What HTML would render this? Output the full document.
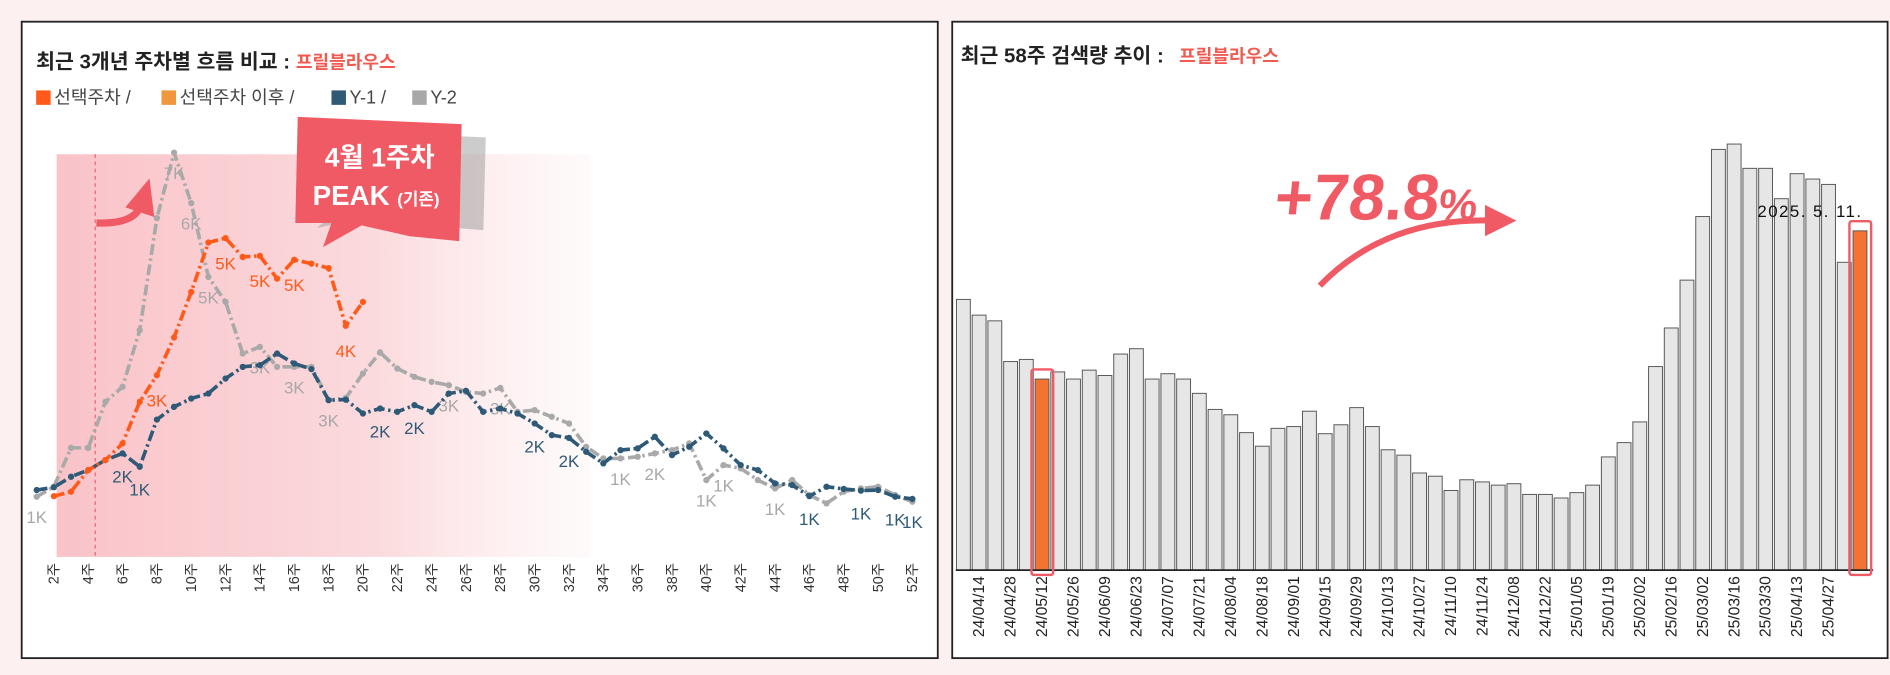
<!DOCTYPE html>
<html><head><meta charset="utf-8"><style>
html,body{margin:0;padding:0;background:#fdf0f0;}
svg{display:block;font-family:"Liberation Sans","Noto Sans CJK KR",sans-serif;}
</style></head><body>
<svg id="s" width="1890" height="675" viewBox="0 0 1568 560" preserveAspectRatio="none">
<defs>
<linearGradient id="pg" x1="0" x2="1" y1="0" y2="0">
<stop offset="0" stop-color="#f9c3c8"/><stop offset="0.6" stop-color="#fbdadd"/><stop offset="1" stop-color="#fde9ea" stop-opacity="0.2"/>
</linearGradient>
</defs>
<rect x="0" y="0" width="1568" height="560" fill="#fdf0f0"/>
<rect x="18" y="18" width="760" height="528" fill="#fff" stroke="#222" stroke-width="1.5"/>
<text x="30" y="57" font-size="17" font-weight="bold" fill="#222">최근 3개년 주차별 흐름 비교 : <tspan fill="#f05a50" font-size="15">프릴블라우스</tspan></text>
<g font-size="15" fill="#444">
<rect x="30" y="75" width="12" height="12" fill="#ff5a1a"/>
<text x="45" y="86">선택주차 /</text>
<rect x="134" y="75" width="12" height="12" fill="#f0963c"/>
<text x="149" y="86">선택주차 이후 /</text>
<rect x="275" y="75" width="12" height="12" fill="#2e5a78"/>
<text x="290" y="86">Y-1 /</text>
<rect x="342" y="75" width="12" height="12" fill="#a8a8a8"/>
<text x="357" y="86">Y-2</text>
</g>
<rect x="47" y="128" width="443" height="334" fill="url(#pg)"/>
<line x1="79" y1="128" x2="79" y2="462" stroke="#f06070" stroke-width="1" stroke-dasharray="3 3"/>
<g id="left"></g>
<path d="M80 185 Q110 186 116 172" fill="none" stroke="#f05a64" stroke-width="6"/>
<polygon points="104,172 124,148 128,180" fill="#f05a64"/>
<g>
<polygon points="258,104 395,110 393,187 370,185 340,180 300,176 255,185 275,168 247,168" fill="#9a9a9a" opacity="0.5" transform="translate(8,4)"/>
<polygon points="247,97 383,103 381,200 340,196 300,187 268,205 275,185 245,185" fill="#f05a64"/>
<text x="315" y="138" font-size="22" font-weight="bold" fill="#fff" text-anchor="middle">4월 1주차</text>
<text x="312" y="170" font-size="23" font-weight="bold" fill="#fff" text-anchor="middle">PEAK <tspan font-size="14">(기존)</tspan></text>
</g>
<rect x="790" y="18" width="776" height="528" fill="#fff" stroke="#222" stroke-width="1.5"/>
<text x="797" y="52" font-size="17" font-weight="bold" fill="#222">최근 58주 검색량 추이 :  <tspan fill="#f05a50" font-size="15" dx="8">프릴블라우스</tspan></text>
<g id="right"></g>
<text x="1057" y="182" font-size="54" font-weight="bold" fill="#f05a64" transform="skewX(-6) translate(18,0)">+78.8<tspan font-size="36">%</tspan></text>
<path d="M1095 237 Q1150 180 1240 183" fill="none" stroke="#f05a64" stroke-width="5"/>
<polygon points="1232,170 1258,183 1232,196" fill="#f05a64"/>
</svg>
<script>
const weeks=[];for(let i=1;i<=52;i++)weeks.push(i);
const weekTickLabels=["2주","4주","6주","8주","10주","12주","14주","16주","18주","20주","22주","24주","26주","28주","30주","32주","34주","36주","38주","40주","42주","44주","46주","48주","50주","52주"];
const selectedValues=[null,0.79,0.87,1.26,1.44,1.74,2.49,2.97,3.65,4.47,5.36,5.44,5.10,5.12,4.71,5.05,4.98,4.90,3.86,4.29];
const y1Values=[0.9,0.95,1.14,1.26,1.44,1.56,1.32,2.17,2.40,2.55,2.64,2.91,3.12,3.15,3.36,3.18,3.08,2.52,2.53,2.28,2.37,2.31,2.43,2.31,2.64,2.69,2.31,2.37,2.28,2.10,1.89,1.84,1.59,1.38,1.62,1.65,1.86,1.53,1.68,1.92,1.65,1.35,1.26,1.02,0.99,0.79,0.96,0.92,0.89,0.90,0.78,0.74];
const y2Values=[0.78,0.96,1.66,1.66,2.49,2.76,3.78,5.80,6.98,6.07,4.74,4.29,3.36,3.48,3.12,3.12,3.12,2.52,2.56,3.00,3.38,3.09,2.94,2.85,2.79,2.67,2.64,2.74,2.31,2.34,2.22,2.10,1.68,1.47,1.47,1.50,1.56,1.62,1.74,1.08,1.35,1.29,1.08,0.93,1.08,0.81,0.66,0.87,0.93,0.96,0.81,0.69];
const selectedLabelWeeks=[8,12,14,16,19];
const y1LabelWeeks=[6,7,21,23,30,32,46,49,51,52];
const y2LabelWeeks=[1,9,10,11,14,16,18,25,28,35,37,40,41,44];
const barDates=["24/04/07","24/04/14","24/04/21","24/04/28","24/05/05","24/05/12","24/05/19","24/05/26","24/06/02","24/06/09","24/06/16","24/06/23","24/06/30","24/07/07","24/07/14","24/07/21","24/07/28","24/08/04","24/08/11","24/08/18","24/08/25","24/09/01","24/09/08","24/09/15","24/09/22","24/09/29","24/10/06","24/10/13","24/10/20","24/10/27","24/11/03","24/11/10","24/11/17","24/11/24","24/12/01","24/12/08","24/12/15","24/12/22","24/12/29","25/01/05","25/01/12","25/01/19","25/01/26","25/02/02","25/02/09","25/02/16","25/02/23","25/03/02","25/03/09","25/03/16","25/03/23","25/03/30","25/04/06","25/04/13","25/04/20","25/04/27","25/05/04","25/05/11"];
const barValues=[758,714,698,584,590,535,555,535,560,545,605,620,535,550,535,495,450,435,385,347,397,402,445,382,407,455,402,337,322,272,263,223,253,247,238,242,212,212,202,217,238,317,357,415,570,678,812,990,1178,1193,1125,1125,1040,1110,1095,1080,862,950];
const highlightBars=[5,57];

const NS="http://www.w3.org/2000/svg";
function mk(tag,attrs,parent){const e=document.createElementNS(NS,tag);for(const k in attrs)e.setAttribute(k,attrs[k]);parent.appendChild(e);return e;}
const X=w=>30.45+14.245*(w-1);
const Y=v=>448-46.04*v;
const L=document.getElementById('left');
weekTickLabels.forEach((t,i)=>{const w=(i+1)*2;
  const e=mk('text',{x:X(w)+4,y:467,'font-size':12,fill:'#333','text-anchor':'end',transform:`rotate(-90 ${X(w)+4} 467)`},L);
  
  
  e.textContent=t;});
function drawSeries(vals,color,name,labelWeeks,lblColor,dy){
  const g=mk('g',{},L);
  
  
  let d='';vals.forEach((v,i)=>{if(v==null)return;d+=(d?'L':'M')+X(i+1)+' '+Y(v)+' ';});
  mk('path',{d:d,fill:'none',stroke:color,'stroke-width':3,'stroke-dasharray':'9 3 2 3','stroke-linejoin':'round'},g);
  vals.forEach((v,i)=>{if(v==null)return;const c=mk('circle',{cx:X(i+1),cy:Y(v),r:2.6,fill:color},g);
    
    });
  labelWeeks.forEach(w=>{const v=vals[w-1];if(v==null)return;
    const t=mk('text',{x:X(w),y:Y(v)+dy,'font-size':14,fill:lblColor,'text-anchor':'middle'},g);
    
    
    t.textContent=Math.max(1,Math.round(v))+'K';});
}
drawSeries(y2Values,'#a9a9a9','series-y2',y2LabelWeeks,'#a8a8a8',22);
drawSeries(y1Values,'#2e5a78','series-y1',y1LabelWeeks,'#2e5a78',24);
drawSeries(selectedValues,'#ff5a1a','series-selected',selectedLabelWeeks,'#ff5a1a',26);

const R=document.getElementById('right');
const BX=i=>793.5+i*13.05, base=473, BY=v=>base-v*0.2963;
barValues.forEach((v,i)=>{const hl=highlightBars.includes(i);
  const r=mk('rect',{x:BX(i),y:BY(v),width:11.5,height:base-BY(v),fill:hl?'#f47330':'#e6e6e6',stroke:'#555','stroke-width':0.8},R);
  
  
  if(i%2===1&&i<57){const tx=BX(i)+10;
    const t=mk('text',{x:tx,y:478,'font-size':13,fill:'#222','text-anchor':'end',transform:`rotate(-90 ${tx} 478)`},R);
    
    
    t.textContent=barDates[i];}
});
const ax=mk('line',{x1:793,y1:base,x2:1554,y2:base,stroke:'#222','stroke-width':1.5},R);


highlightBars.forEach(i=>{const v=barValues[i];
  const h=mk('rect',{x:BX(i)-3,y:BY(v)-8,width:18,height:base-BY(v)+12,rx:2,fill:'none',stroke:'#f05a64','stroke-width':2},R);
  
  });
const lb=mk('text',{x:1458,y:180,'font-size':14,fill:'#111',textLength:86},R);


lb.textContent='2025. 5. 11.';
</script>
</body></html>
